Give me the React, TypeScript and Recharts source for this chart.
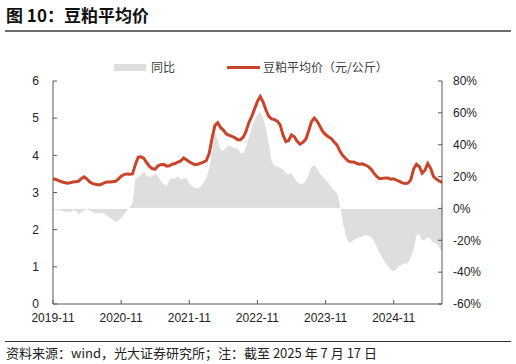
import { ComposedChart, Area, Line, XAxis, YAxis, ReferenceLine } from "recharts";

// half-month points from 2019-11 to 2025-07-17
const tickLabels = ["2019-11", "2020-11", "2021-11", "2022-11", "2023-11", "2024-11"];
const priceTicks = [0, 1, 2, 3, 4, 5, 6];
const yoyTicks = [-60, -40, -20, 0, 20, 40, 60, 80];

// 豆粕平均价 (元/公斤)
const price = [
  3.37, 3.35, 3.32, 3.29, 3.27, 3.25, 3.26, 3.28, 3.29, 3.3,
  3.38, 3.42, 3.36, 3.28, 3.24, 3.22, 3.2, 3.22, 3.26, 3.28,
  3.28, 3.29, 3.3, 3.36, 3.44, 3.48, 3.5, 3.49, 3.5, 3.75,
  3.95, 3.96, 3.92, 3.8, 3.7, 3.64, 3.63, 3.72, 3.75, 3.76,
  3.71, 3.72, 3.76, 3.78, 3.82, 3.85, 3.93, 3.88, 3.83, 3.78,
  3.75, 3.76, 3.79, 3.82, 3.86, 4.05, 4.45, 4.8, 4.88, 4.75,
  4.68, 4.58, 4.54, 4.51, 4.48, 4.42, 4.42, 4.49, 4.65, 4.88,
  5.05, 5.25, 5.45, 5.58, 5.43, 5.22, 5.05, 4.98, 4.96, 4.92,
  4.82, 4.55, 4.37, 4.4, 4.55, 4.5, 4.38, 4.3, 4.35, 4.43,
  4.65, 4.9, 5.0, 4.92, 4.78, 4.64, 4.56, 4.5, 4.45, 4.36,
  4.28, 4.12, 4.0, 3.92, 3.84, 3.82, 3.82, 3.78, 3.76, 3.77,
  3.74, 3.7, 3.63, 3.52, 3.43, 3.37, 3.38, 3.39, 3.39, 3.36,
  3.37, 3.33, 3.3, 3.26, 3.24, 3.25, 3.34, 3.63, 3.76, 3.7,
  3.52, 3.6, 3.78, 3.65, 3.43, 3.36, 3.31, 3.27,
];

// 同比 (%)
const yoy = [
  -0.5, -1, -1.2, -1.5, -2, -2.3, -2.3, -1.2, -1.5, -3.8,
  -2.5, -1.2, -0.5, -1.5, -2.3, -3, -3.2, -2.8, -3.2, -4.5,
  -5.8, -7, -8.7, -7.5, -6, -3.8, -1.5, 0.8, 3, 19,
  19.5, 21, 23.5, 20.5, 19.7, 20.5, 22, 20, 17, 15,
  14, 18, 18.8, 19, 20, 18, 19, 19, 16, 14,
  12.8, 12.8, 13.4, 16, 19, 25, 36, 48, 43, 37,
  36, 38.5, 39.5, 38.5, 38, 37.5, 35, 34.5, 39, 45,
  51, 55.5, 59, 60.5, 57, 50, 40, 29.5, 27, 26,
  25.5, 24.5, 22, 21.5, 22, 19, 16.5, 15.5, 15.5, 17.5,
  21, 26, 27.5, 25, 22, 20, 18, 16, 13.5, 11.5,
  9.7, 3, -8, -16, -21.5, -21, -19.5, -18.8, -18.2, -17.5,
  -16.8, -17, -18, -20.5, -24, -28, -31, -34, -36.5, -38.5,
  -39.5, -38, -36, -35, -34.5, -34.5, -31, -26, -17, -16,
  -20, -19.5, -18, -19.5, -21.5, -22, -24.5, -27.5,
];

const data = price.map((p, i) => ({ idx: i, price: p, yoy: yoy[i] }));

const axisColor = "#595959";
const tickStyle = { fill: "#222", fontSize: 12, fontFamily: '"Liberation Sans", Arial, sans-serif' };
const cjk = '"Noto Sans CJK SC", "Noto Sans", sans-serif';

export default function App() {
  return (
    <div style={{ position: "absolute", left: 0, top: 0, width: 516, height: 364, background: "#fff", fontFamily: cjk }}>
      <div style={{ position: "absolute", left: 6, top: 3, fontSize: 17, fontWeight: 700, lineHeight: "24px", color: "#111" }}>
        图 10：豆粕平均价
      </div>
      <div style={{ position: "absolute", left: 5, top: 30, width: 506, height: 2, background: "#6b6b6b" }} />

      <div style={{ position: "absolute", left: 114, top: 63.5, width: 32, height: 7, background: "#dedede" }} />
      <div style={{ position: "absolute", left: 151, top: 59, fontSize: 12, lineHeight: "16px", color: "#404040" }}>同比</div>
      <div style={{ position: "absolute", left: 227, top: 65.5, width: 33, height: 3, background: "#c9442a" }} />
      <div style={{ position: "absolute", left: 263, top: 59, fontSize: 12, lineHeight: "16px", color: "#404040" }}>
        豆粕平均价（元/公斤）
      </div>

      <div style={{ position: "absolute", left: 0, top: 0 }}>
        <ComposedChart width={516} height={364} data={data} margin={{ top: 81, right: 24, bottom: 30, left: 8 }}>
          <XAxis
            dataKey="idx"
            type="number"
            domain={[0, price.length - 1]}
            ticks={[0, 24, 48, 72, 96, 120]}
            tickFormatter={(v) => tickLabels[v / 24]}
            stroke={axisColor}
            tickSize={-4}
            tickMargin={13}
            tick={tickStyle}
            height={30}
          />
          <YAxis
            yAxisId="left"
            domain={[0, 6]}
            ticks={priceTicks}
            stroke={axisColor}
            tickSize={-4}
            tickMargin={18}
            tick={tickStyle}
            width={45}
          />
          <YAxis
            yAxisId="right"
            orientation="right"
            domain={[-60, 80]}
            ticks={yoyTicks}
            tickFormatter={(v) => `${v}%`}
            stroke={axisColor}
            tickSize={-4}
            tickMargin={15}
            tick={tickStyle}
            width={50}
          />
          <Area
            yAxisId="right"
            dataKey="yoy"
            type="linear"
            baseValue={0}
            fill="#dedede"
            fillOpacity={1}
            stroke="none"
            isAnimationActive={false}
          />
          <ReferenceLine yAxisId="right" y={0} stroke="#fff" strokeWidth={1} />
          <Line
            yAxisId="left"
            dataKey="price"
            type="linear"
            stroke="#c9442a"
            strokeWidth={3}
            dot={false}
            isAnimationActive={false}
          />
        </ComposedChart>
      </div>

      <div style={{ position: "absolute", left: 5, top: 341, width: 506, height: 1, background: "#333" }} />
      <div style={{ position: "absolute", left: 6, top: 345, fontSize: 13, lineHeight: "16px", color: "#222", whiteSpace: "nowrap" }}>
        资料来源：wind，光大证券研究所；注：截至 2025 年 7 月 17 日
      </div>
    </div>
  );
}
